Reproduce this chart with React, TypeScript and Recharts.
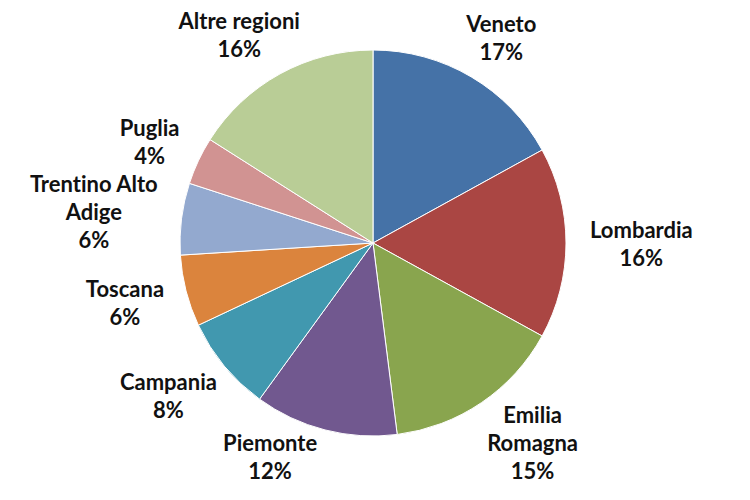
import { PieChart, Pie, Cell } from 'recharts';

const REGIONS = [
  'Veneto',
  'Lombardia',
  'Emilia\nRomagna',
  'Piemonte',
  'Campania',
  'Toscana',
  'Trentino Alto\nAdige',
  'Puglia',
  'Altre regioni',
];
const SHARES = [17, 16, 15, 12, 8, 6, 6, 4, 16];

const COLORS = ['#4572A7', '#AA4643', '#89A54E', '#71588F', '#4198AF', '#DB843D', '#93A9CF', '#D19392', '#B9CD96'];

const data = REGIONS.map((name, i) => ({ name, value: SHARES[i] }));

const RAD = Math.PI / 180;
const LINE_H = 28;
const FONT_SIZE = 22;
const FONT = "Lato, 'Liberation Sans', sans-serif";
const GAP = 24;
const MIN_GAP = 6;
const MAX_BOTTOM = 478;

let ctx: CanvasRenderingContext2D | null = null;
const measure = (s: string) => {
  if (!ctx) ctx = document.createElement('canvas').getContext('2d');
  if (!ctx) return s.length * FONT_SIZE * 0.55;
  ctx.font = `bold ${FONT_SIZE}px ${FONT}`;
  return ctx.measureText(s).width;
};

// place the text block just outside the slice, on the side the slice points to,
// then keep it inside the picture without touching the pie
const renderLabel = (props: any) => {
  const { cx, cy, midAngle, outerRadius, payload } = props;
  const cos = Math.cos(-midAngle * RAD);
  const sin = Math.sin(-midAngle * RAD);
  const r = outerRadius + GAP;
  const lines = [...String(payload.name).split('\n'), `${payload.value}%`];
  const w = Math.max(...lines.map(measure));
  const h = (lines.length - 1) * LINE_H + 16;
  let x = cx + r * cos + (cos * w) / 2;
  let y = cy + r * sin + (sin * h) / 2;

  if (y + h / 2 > MAX_BOTTOM) {
    y -= y + h / 2 - MAX_BOTTOM;
    const nx = Math.max(x - w / 2, Math.min(cx, x + w / 2));
    const ny = Math.max(y - h / 2, Math.min(cy, y + h / 2));
    const need = outerRadius + MIN_GAP;
    if (Math.hypot(nx - cx, ny - cy) < need) {
      const dy = Math.abs(ny - cy);
      const dx = Math.sqrt(Math.max(0, need * need - dy * dy));
      x = cos < 0 ? cx - dx - w / 2 : cx + dx + w / 2;
    }
  }

  const top = y - ((lines.length - 1) * LINE_H) / 2;
  return (
    <text
      x={x}
      y={top}
      textAnchor="middle"
      dominantBaseline="central"
      fill="#111"
      fontFamily={FONT}
      fontWeight={700}
      fontSize={FONT_SIZE}
      style={{ fontVariantLigatures: 'none' }}
    >
      {lines.map((l, i) => (
        <tspan key={i} x={x} dy={i === 0 ? 0 : LINE_H}>{l}</tspan>
      ))}
    </text>
  );
};

export default function App() {
  return (
    <div style={{ position: 'absolute', left: 0, top: 0, width: 750, height: 500, background: '#fff' }}>
      <PieChart width={750} height={500} margin={{ top: 0, right: 0, bottom: 0, left: 0 }}>
        <Pie
          data={data}
          dataKey="value"
          cx={373}
          cy={243}
          outerRadius={193}
          startAngle={90}
          endAngle={-270}
          stroke="#fff"
          strokeWidth={1}
          label={renderLabel}
          labelLine={false}
          isAnimationActive={false}
        >
          {data.map((_, i) => <Cell key={i} fill={COLORS[i % COLORS.length]} />)}
        </Pie>
      </PieChart>
    </div>
  );
}
